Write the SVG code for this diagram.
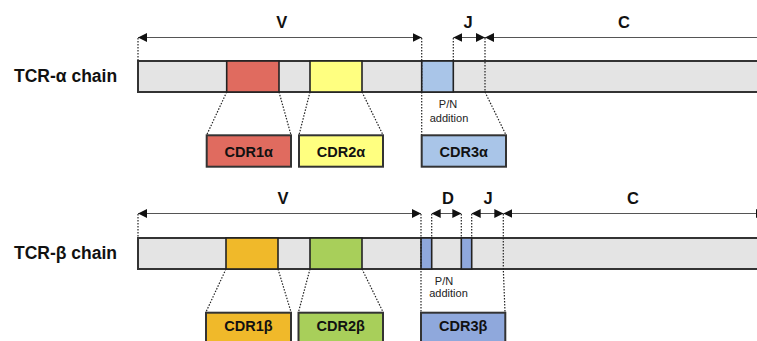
<svg xmlns="http://www.w3.org/2000/svg" width="757" height="341" viewBox="0 0 757 341">
  <defs>
    <marker id="ah" viewBox="0 0 9 9" refX="9" refY="4.5" markerWidth="9" markerHeight="9" markerUnits="userSpaceOnUse" orient="auto-start-reverse">
      <path d="M0,0 L9,4.5 L0,9 Z" fill="#111"/>
    </marker>
    <style>
      .bar { fill: #e4e4e4; stroke: #333; stroke-width: 2; }
      .seg { stroke: #222; stroke-width: 1.6; }
      .box { stroke: #333; stroke-width: 2; }
      .span { stroke: #555; stroke-width: 1; fill: none; marker-start: url(#ah); marker-end: url(#ah); }
      .dot { stroke: #222; stroke-width: 1.2; stroke-dasharray: 1.5 1.5; fill: none; }
      .chain { font-family: "Liberation Sans", Arial, sans-serif; font-weight: bold; font-size: 17.5px; fill: #111; }
      .region { font-family: "Liberation Sans", Arial, sans-serif; font-weight: bold; font-size: 16.5px; fill: #111; text-anchor: middle; }
      .cdr { font-family: "Liberation Sans", Arial, sans-serif; font-weight: bold; font-size: 14.5px; fill: #111; text-anchor: middle; }
      .note { font-family: "Liberation Sans", Arial, sans-serif; font-size: 11px; fill: #222; text-anchor: middle; }
    </style>
  </defs>

  <!-- alpha chain -->
  <g id="alpha-chain">
    <text class="chain" x="14" y="82">TCR-α chain</text>
    <rect class="bar" x="138" y="61" width="640" height="31"/>
    <rect class="seg" x="226.7" y="61" width="52.3" height="31" fill="#e06b5f"/>
    <rect class="seg" x="310" y="61" width="52" height="31" fill="#ffff80"/>
    <rect class="seg" x="421.7" y="61" width="31.6" height="31" fill="#a9c5e8"/>
    <text class="note" x="448" y="108">P/N</text>
    <text class="note" x="449" y="121.5">addition</text>
  </g>
  <g id="cdr1a">
    <rect class="box" x="206.7" y="135.3" width="84.3" height="31.4" fill="#e06b5f"/>
    <text class="cdr" x="248.8" y="156.5">CDR1α</text>
  </g>
  <g id="cdr2a">
    <rect class="box" x="299" y="135.3" width="84" height="31.4" fill="#ffff80"/>
    <text class="cdr" x="341" y="156.5">CDR2α</text>
  </g>
  <g id="cdr3a">
    <rect class="box" x="421.7" y="135.3" width="84.3" height="31.4" fill="#a9c5e8"/>
    <text class="cdr" x="463.8" y="156.5">CDR3α</text>
  </g>
  <g id="alpha-regions">
    <text class="region" x="281.7" y="28">V</text>
    <text class="region" x="468" y="28">J</text>
    <text class="region" x="624" y="28">C</text>
  </g>

  <!-- beta chain -->
  <g id="beta-chain">
    <text class="chain" x="14" y="259">TCR-β chain</text>
    <rect class="bar" x="138" y="238" width="640" height="31"/>
    <rect class="seg" x="226" y="238" width="52" height="31" fill="#f0b92a"/>
    <rect class="seg" x="310" y="238" width="52" height="31" fill="#a8cf5a"/>
    <rect class="seg" x="421" y="238" width="10.7" height="31" fill="#8fa8dc"/>
    <rect class="seg" x="461.3" y="238" width="10.4" height="31" fill="#8fa8dc"/>
    <text class="note" x="444" y="285">P/N</text>
    <text class="note" x="448.5" y="297">addition</text>
  </g>
  <g id="cdr1b">
    <rect class="box" x="206" y="312.7" width="85" height="34" fill="#f0b92a"/>
    <text class="cdr" x="248.5" y="331">CDR1β</text>
  </g>
  <g id="cdr2b">
    <rect class="box" x="298.5" y="312.7" width="84.5" height="34" fill="#a8cf5a"/>
    <text class="cdr" x="340.7" y="331">CDR2β</text>
  </g>
  <g id="cdr3b">
    <rect class="box" x="421" y="312.7" width="84.3" height="34" fill="#8fa8dc"/>
    <text class="cdr" x="463.2" y="331">CDR3β</text>
  </g>
  <g id="beta-regions">
    <text class="region" x="283" y="203.5">V</text>
    <text class="region" x="448" y="203.5">D</text>
    <text class="region" x="488" y="203.5">J</text>
    <text class="region" x="633" y="203.5">C</text>
  </g>

  <!-- connectors: segment spans and dotted guides -->
  <g id="connectors">
    <line class="span" x1="138" y1="37.5" x2="421.7" y2="37.5"/>
    <line class="span" x1="453.3" y1="37.5" x2="485" y2="37.5"/>
    <line class="span" x1="485" y1="37.5" x2="790" y2="37.5"/>

    <path class="dot" d="M138,38 V61"/>
    <path class="dot" d="M421.7,38 V135"/>
    <path class="dot" d="M453.3,38 V61"/>
    <path class="dot" d="M485,38 V92 L506,135"/>
    <path class="dot" d="M226.7,92 L206.7,135"/>
    <path class="dot" d="M279,92 L291,135"/>
    <path class="dot" d="M310,92 L299,135"/>
    <path class="dot" d="M362,92 L383,135"/>

    <line class="span" x1="138" y1="213.5" x2="421" y2="213.5"/>
    <line class="span" x1="431.7" y1="213.5" x2="461.3" y2="213.5"/>
    <line class="span" x1="471.7" y1="213.5" x2="503.3" y2="213.5"/>
    <line class="span" x1="503.3" y1="213.5" x2="765" y2="213.5"/>

    <path class="dot" d="M138,214 V238"/>
    <path class="dot" d="M421,214 V312"/>
    <path class="dot" d="M431.7,214 V238"/>
    <path class="dot" d="M461.3,214 V238"/>
    <path class="dot" d="M471.7,214 V238"/>
    <path class="dot" d="M503.3,214 V269 L505,312"/>
    <path class="dot" d="M226,269 L206,312"/>
    <path class="dot" d="M278,269 L291,312"/>
    <path class="dot" d="M310,269 L298.5,312"/>
    <path class="dot" d="M362,269 L383,312"/>
  </g>
</svg>
